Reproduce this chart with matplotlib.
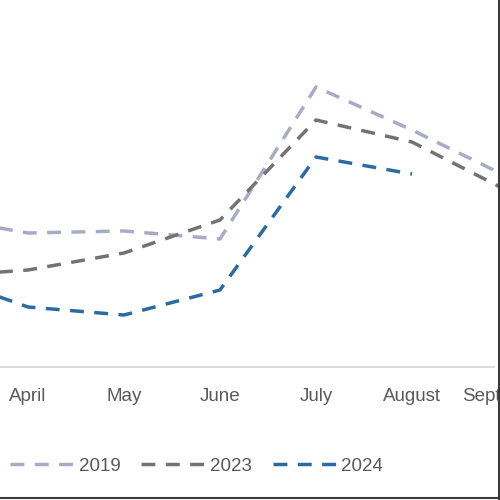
import matplotlib
matplotlib.use('Agg')
import matplotlib.pyplot as plt
from matplotlib.lines import Line2D

# visible window of a wider monthly chart (March and September sit just off the edges)
months = ['March', 'April', 'May', 'June', 'July', 'August', 'September']
vals_2019 = [151, 134, 136, 128, 280, 237, 190]
vals_2023 = [90, 97, 114, 147, 247, 225, 176]
vals_2024 = [94, 60, 52, 77, 210, 193]

series = [
    ('2019', vals_2019, '#A8ABC6'),
    ('2023', vals_2023, '#737373'),
    ('2024', vals_2024, '#2B6BA3'),
]

plt.rcParams['font.family'] = ['Liberation Sans', 'DejaVu Sans']

fig = plt.figure(figsize=(5, 5), dpi=100)
# pixel 28 is April, 96 px per month; axes run past the right edge of the figure
x_lo, x_hi = 1 - 28 / 96, 6.5
ax = fig.add_axes([0, 1 - 367 / 500, (x_hi - x_lo) * 96 / 500, 367 / 500])

x = list(range(len(months)))
for name, vals, col in series:
    ln, = ax.plot(x[:len(vals)], vals, color=col, lw=2.5, label=name)
    ln.set_dashes([4, 3])

ax.set_xticks(x)
ax.set_xticklabels(months, color='#595959', fontsize=13.5)
ax.set_xlim(x_lo, x_hi)
ax.set_ylim(0, 367)
ax.tick_params(axis='x', length=0, pad=15)
ax.set_yticks([])
for s in ['top', 'left', 'right']:
    ax.spines[s].set_visible(False)
ax.spines['bottom'].set_color('#D9D9D9')
ax.spines['bottom'].set_linewidth(1.3)
ax.spines['bottom'].set_bounds(x_lo, 1 + (494 - 28) / 96)

leg = fig.legend(loc='center left', bbox_to_anchor=(0.02, 1 - 466 / 500), ncol=3,
                 frameon=False, fontsize=13.5, handlelength=3.57, handletextpad=0.1,
                 columnspacing=1.1, borderaxespad=0, borderpad=0)
for t in leg.get_texts():
    t.set_color('#595959')

# chart-area border at the right and bottom edges
fig.add_artist(Line2D([0.997, 0.997], [0, 1], color='#3A3A3A', lw=1.5, transform=fig.transFigure))
fig.add_artist(Line2D([0, 1], [0.004, 0.004], color='#3A3A3A', lw=1.5, transform=fig.transFigure))

fig.savefig('out.png', dpi=100)
